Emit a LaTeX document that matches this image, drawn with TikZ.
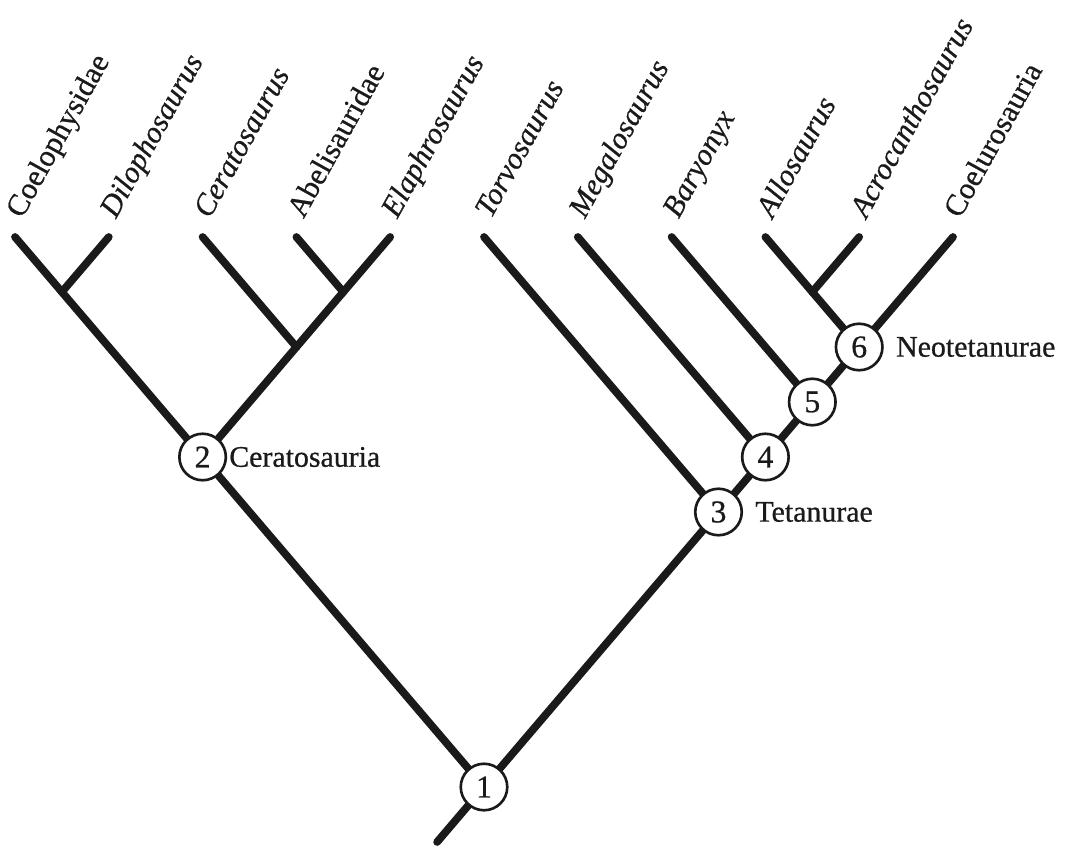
\documentclass[tikz,border=0pt]{standalone}
\usepackage{fontspec}
\setmainfont{Liberation Serif}[RawFeature={embolden=0.7}]
\usepackage{tikz}
\usetikzlibrary{positioning,backgrounds}
\definecolor{encre}{HTML}{1A1A1A}
\tikzset{
  branche/.style={line width=4.4pt,line cap=round,color=encre},
  pastille/.style={circle,draw=encre,line width=1.5pt,fill=white,minimum size=0.93cm,
                   inner sep=0pt,font=\fontsize{18}{20}\selectfont,text=encre},
}

\begin{document}
\begin{tikzpicture}[x=0.938cm,y=1.1cm,
  taxon/.style={xshift=0.14cm,yshift=0.35cm,rotate=61,anchor=base west,inner sep=0pt,
                font=\fontsize{17.3}{20}\selectfont,text=encre},
  clade/.style={font=\fontsize{17}{19}\selectfont,text=encre,inner sep=0pt}]
  \useasboundingbox (-0.30cm,4.74cm) rectangle (21.08cm,-12.38cm);
  \foreach \n/\x in {a/0,b/2,c/4,d/6,e/8,f/10,g/12,h/14,i/16,j/18,k/20}
    \coordinate (\n) at (\x,0);
  \node[taxon] (ta) at (a) {Coelophysidae};
  \node[taxon] (tb) at (b) {\textit{Dilophosaurus}};
  \node[taxon] (tc) at (c) {\textit{Ceratosaurus}};
  \node[taxon] (td) at (d) {Abelisauridae};
  \node[taxon] (te) at (e) {\textit{Elaphrosaurus}};
  \node[taxon] (tf) at (f) {\textit{Torvosaurus}};
  \node[taxon] (tg) at (g) {\textit{Megalosaurus}};
  \node[taxon] (th) at (h) {\textit{Baryonyx}};
  \node[taxon] (ti) at (i) {\textit{Allosaurus}};
  \node[taxon] (tj) at (j) {\textit{Acrocanthosaurus}};
  \node[taxon] (tk) at (k) {Coelurosauria};
  \coordinate (ab) at (1,-1);
  \coordinate (de) at (7,-1);
  \coordinate (cde) at (6,-2);
  \coordinate (ij) at (17,-1);
  \coordinate (base) at (9,-11);
  \node[pastille] (n1) at (10,-10) {1};
  \node[pastille] (n2) at (4,-4) {2};
  \node[pastille] (n3) at (15,-5) {3};
  \node[pastille] (n4) at (16,-4) {4};
  \node[pastille] (n5) at (17,-3) {5};
  \node[pastille] (n6) at (18,-2) {6};
  \node[clade,right=1pt of n2] (l2) {Ceratosauria};
  \node[clade,right=0.24cm of n3] (l3) {Tetanurae};
  \node[clade,right=0.24cm of n6] (l6) {Neotetanurae};
  \begin{scope}[on background layer]
    \foreach \u/\v in {a/ab,b/ab,ab/n2,c/cde,d/de,e/de,de/cde,cde/n2,n2/n1,
                       f/n3,g/n4,h/n5,i/ij,j/ij,ij/n6,k/n6,n6/n5,n5/n4,n4/n3,n3/n1,n1/base}
      \draw[branche] (\u) -- (\v);
  \end{scope}
\end{tikzpicture}
\end{document}
